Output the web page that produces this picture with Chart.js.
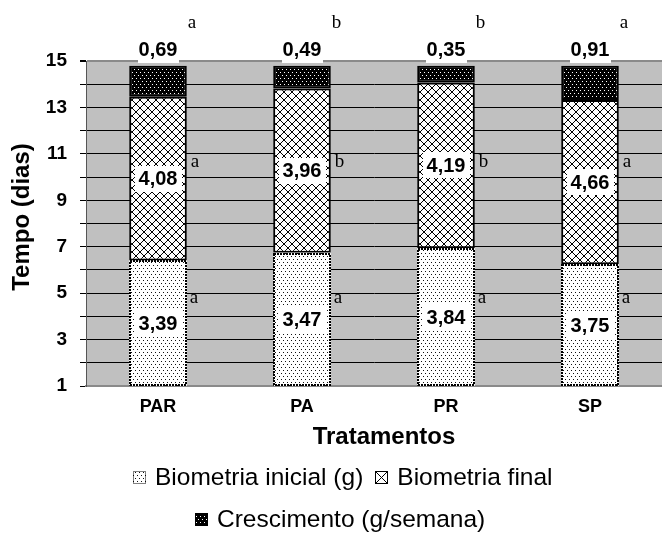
<!DOCTYPE html>
<html><head><meta charset="utf-8">
<script src="https://cdn.jsdelivr.net/npm/chart.js@4"></script>
<style>html,body{margin:0;padding:0;background:#fff}#c{display:block}</style>
</head><body>
<canvas id="c" width="662" height="535"></canvas>
<script>
// ---- data ----
const categories = ['PAR', 'PA', 'PR', 'SP'];
const seriesNames = ['Biometria inicial (g)', 'Biometria final', 'Crescimento (g/semana)'];
// stacked segment sizes in axis units (bottom segment drawn from 0, axis starts at 1)
const inicialValues = [6.41, 6.74, 6.93, 6.24];
const finalValues = [7.05, 7.08, 7.14, 7.08];
const crescValues = [1.34, 0.98, 0.73, 1.48];
// printed value labels
const inicialLabels = ['3,39', '3,47', '3,84', '3,75'];
const finalLabels = ['4,08', '3,96', '4,19', '4,66'];
const crescLabels = ['0,69', '0,49', '0,35', '0,91'];
// significance letters
const inicialLetters = ['a', 'a', 'a', 'a'];
const finalLetters = ['a', 'b', 'b', 'a'];
const crescLetters = ['a', 'b', 'b', 'a'];
// axis
const yMin = 1, yMax = 15;
const yTickLabels = [1, 3, 5, 7, 9, 11, 13, 15];

// ---- patterns ----
function makePattern(kind) {
  const c = document.createElement('canvas');
  const g = c.getContext('2d');
  if (kind === 'dots') {
    c.width = 4; c.height = 6;
    g.fillStyle = '#fff'; g.fillRect(0, 0, 4, 6);
    g.fillStyle = '#111';
    g.fillRect(1, 1, 1, 1); g.fillRect(3, 4, 1, 1);
  } else if (kind === 'cross') {
    c.width = 8; c.height = 8;
    g.fillStyle = '#fff'; g.fillRect(0, 0, 8, 8);
    g.fillStyle = '#000';
    for (let i = 0; i < 8; i++) { g.fillRect(i, i, 1, 1); g.fillRect(7 - i, i, 1, 1); }
  } else {
    c.width = 4; c.height = 6;
    g.fillStyle = '#000'; g.fillRect(0, 0, 4, 6);
    g.fillStyle = '#fff';
    g.fillRect(0, 0, 1, 1); g.fillRect(2, 3, 1, 1);
  }
  return g.createPattern(c, 'repeat');
}
const patDots = makePattern('dots');
const patCross = makePattern('cross');
const patDark = makePattern('dark');

const SANS = '"Liberation Sans", Arial, sans-serif';
const SERIF = '"Liberation Serif", "Times New Roman", serif';

const letterYValue = { cresc: 16.64, final: 10.65, inicial: 4.78 };

const decorPlugin = {
  id: 'decor',
  beforeDraw(chart) {
    const { ctx, chartArea: a } = chart;
    ctx.save();
    ctx.fillStyle = '#c0c0c0';
    ctx.fillRect(a.left, a.top, a.right - a.left, a.bottom - a.top);
    ctx.restore();
  },
  afterDatasetsDraw(chart) {
    const { ctx, chartArea: a } = chart;
    const ys = chart.scales.y;
    const m0 = chart.getDatasetMeta(0), m1 = chart.getDatasetMeta(1), m2 = chart.getDatasetMeta(2);
    ctx.save();
    // dotted border of bottom segment
    ctx.strokeStyle = '#000'; ctx.lineWidth = 2; ctx.setLineDash([2, 1]);
    m0.data.forEach(el => {
      const bottom = Math.min(el.base, a.bottom);
      ctx.strokeRect(Math.round(el.x - el.width / 2) + 1, Math.round(el.y) + 1, Math.round(el.width) - 2, Math.round(bottom - el.y) - 2);
    });
    ctx.setLineDash([]);

    function label(text, x, y, padX, h) {
      ctx.font = 'bold 20px ' + SANS;
      const w = ctx.measureText(text).width;
      ctx.fillStyle = '#fff';
      ctx.fillRect(Math.round(x - w / 2 - padX), Math.round(y - h / 2), Math.round(w + 2 * padX), h);
      ctx.fillStyle = '#000';
      ctx.textAlign = 'center'; ctx.textBaseline = 'middle';
      ctx.fillText(text, x, y + 1);
    }
    function letter(text, x, y) {
      ctx.font = '19px ' + SERIF;
      ctx.fillStyle = '#000';
      ctx.textAlign = 'left'; ctx.textBaseline = 'middle';
      ctx.fillText(text, x, y);
    }
    m0.data.forEach((el, i) => {
      const bottom = Math.min(el.base, a.bottom);
      label(inicialLabels[i], el.x, (el.y + bottom) / 2, 4, 26);
      letter(inicialLetters[i], el.x + el.width / 2 + 3, ys.getPixelForValue(letterYValue.inicial));
    });
    m1.data.forEach((el, i) => {
      label(finalLabels[i], el.x, (el.y + el.base) / 2, 4, 26);
      letter(finalLetters[i], el.x + el.width / 2 + 4, ys.getPixelForValue(letterYValue.final));
    });
    m2.data.forEach((el, i) => {
      label(crescLabels[i], el.x, el.y - 16, 1, 26);
      letter(crescLetters[i], el.x + el.width / 2 + 1, ys.getPixelForValue(letterYValue.cresc));
    });
    ctx.restore();
  },
  afterDraw(chart) {
    const { ctx } = chart;
    ctx.save();
    ctx.fillStyle = '#000';
    // axis titles
    ctx.font = 'bold 24px ' + SANS;
    ctx.textAlign = 'center'; ctx.textBaseline = 'middle';
    ctx.save();
    ctx.translate(22, 217);
    ctx.rotate(-Math.PI / 2);
    ctx.fillText('Tempo (dias)', 0, 0);
    ctx.restore();
    ctx.font = 'bold 24px ' + SANS;
    ctx.fillText('Tratamentos', 384, 437);

    // legend
    const pats = [patDots, patCross, patDark];
    const rows = [[0, 1], [2]];
    const rowY = [477, 519];
    const rowCx = [343, 340];
    ctx.font = '24.5px ' + SANS;
    const box = 13, gapBT = 9, gapItem = 12;
    rows.forEach((row, r) => {
      let total = 0;
      row.forEach((k, j) => { total += box + gapBT + ctx.measureText(seriesNames[k]).width + (j ? gapItem : 0); });
      let x = Math.round(rowCx[r] - total / 2);
      row.forEach((k, j) => {
        if (j) x += gapItem;
        const bx = Math.round(x);
        const by = Math.round(rowY[r] - box / 2);
        if (k === 1) {
          ctx.fillStyle = '#fff'; ctx.fillRect(bx, by, box, box);
          ctx.strokeStyle = '#000'; ctx.lineWidth = 1;
          ctx.beginPath();
          ctx.moveTo(bx, by); ctx.lineTo(bx + box, by + box);
          ctx.moveTo(bx + box, by); ctx.lineTo(bx, by + box);
          ctx.stroke();
        } else {
          ctx.fillStyle = pats[k]; ctx.fillRect(bx, by, box, box);
        }
        ctx.strokeStyle = '#000'; ctx.lineWidth = 1;
        if (k === 0) ctx.setLineDash([1, 1]);
        ctx.strokeRect(bx + 0.5, by + 0.5, box - 1, box - 1);
        ctx.setLineDash([]);
        x += box + gapBT;
        ctx.fillStyle = '#000';
        ctx.textAlign = 'left'; ctx.textBaseline = 'middle';
        ctx.fillText(seriesNames[k], x, rowY[r] + 1);
        x += ctx.measureText(seriesNames[k]).width;
      });
    });
    ctx.restore();
  }
};

new Chart(document.getElementById('c'), {
  type: 'bar',
  data: {
    labels: categories,
    datasets: [
      { label: seriesNames[0], data: inicialValues, backgroundColor: patDots, borderWidth: 0 },
      { label: seriesNames[1], data: finalValues, backgroundColor: patCross, borderColor: '#000', borderWidth: 2, borderSkipped: false },
      { label: seriesNames[2], data: crescValues, backgroundColor: patDark, borderColor: '#000', borderWidth: 2, borderSkipped: false }
    ]
  },
  options: {
    responsive: false,
    animation: false,
    devicePixelRatio: 1,
    layout: { padding: { top: 61, right: 0, bottom: 0, left: 0 } },
    datasets: { bar: { categoryPercentage: 1, barPercentage: 0.4 } },
    plugins: { legend: { display: false }, tooltip: { enabled: false } },
    scales: {
      x: {
        stacked: true,
        grid: { display: false, drawTicks: false },
        border: { display: true, color: '#8a8a8a', width: 2 },
        ticks: { color: '#000', font: { family: SANS, size: 18, weight: 'bold' }, padding: 10 },
        afterFit(s) { s.height = 149; }
      },
      y: {
        stacked: true,
        min: yMin, max: yMax,
        grid: {
          color: c => (c.tick && (c.tick.value === yMax || c.tick.value === yMin)) ? '#8a8a8a' : '#000',
          lineWidth: c => (c.tick && c.tick.value === yMax) ? 2 : 1,
          tickLength: 6, tickColor: '#000'
        },
        border: { display: true, color: '#555', width: 1 },
        ticks: {
          stepSize: 1, autoSkip: false,
          color: '#000', font: { family: SANS, size: 19, weight: 'bold' }, padding: 13,
          callback: v => yTickLabels.includes(v) ? String(v) : ''
        },
        afterFit(s) { s.width = 86; }
      }
    }
  },
  plugins: [decorPlugin]
});
</script>
</body></html>
